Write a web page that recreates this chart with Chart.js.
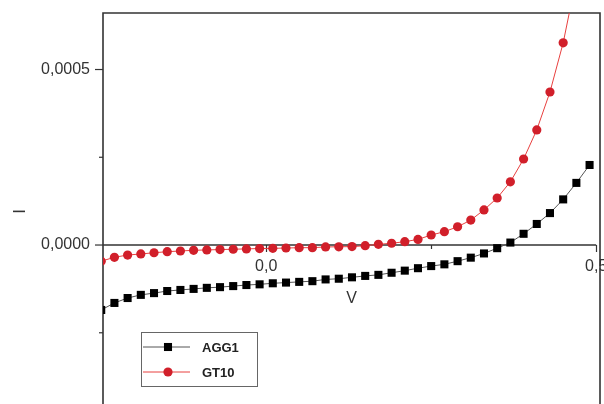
<!DOCTYPE html>
<html><head><meta charset="utf-8">
<script src="https://cdn.jsdelivr.net/npm/chart.js@4.4.1/dist/chart.umd.min.js"></script>
<style>
html,body{margin:0;padding:0;overflow:hidden;background:#fff;width:604px;height:404px}
#wrap{position:absolute;left:0;top:0;width:620px;height:420px}
</style>
</head><body><div id="wrap"><canvas id="c" width="620" height="420"></canvas></div>
<script>
// Voltage (V)
const voltage = [-0.25,-0.23,-0.21,-0.19,-0.17,-0.15,-0.13,-0.11,-0.09,-0.07,-0.05,-0.03,-0.01,
  0.01,0.03,0.05,0.07,0.09,0.11,0.13,0.15,0.17,0.19,0.21,0.23,0.25,0.27,0.29,0.31,0.33,0.35,
  0.37,0.39,0.41,0.43,0.45,0.47,0.49];
// Current I (A)
const agg1 = [-0.000185,-0.000165,-0.000151,-0.000142,-0.000137,-0.000131,-0.000128,-0.000125,
  -0.000122,-0.000120,-0.000117,-0.000114,-0.000112,-0.000109,-0.000107,-0.000105,-0.000103,
  -0.000098,-0.000096,-0.000092,-0.000088,-0.000085,-0.000079,-0.000073,-0.000066,-0.000060,
  -0.000055,-0.000046,-0.000036,-0.000024,-0.000009,0.000007,0.000032,0.000060,0.000091,
  0.000130,0.000177,0.000228];
const gt10 = [-0.000046,-0.000035,-0.0000285,-0.0000255,-0.000022,-0.000019,-0.000017,-0.000015,
  -0.000014,-0.000013,-0.000012,-0.000011,-0.000010,-0.0000095,-0.0000085,-0.0000077,-0.0000075,
  -0.0000055,-0.000005,-0.0000045,-0.000002,0.000002,0.000005,0.0000095,0.000016,0.0000285,
  0.000038,0.000052,0.000071,0.000100,0.000134,0.000180,0.000245,0.000328,0.000436,0.000576,
  0.00076,0.00100];
const seriesNames = ['AGG1','GT10'];
const xTicks = [0, 0.25, 0.5];
const xTickLabels = ['0,0', '', '0,5'];
const xMajor = [true, false, true];
const yTicks = [0, 0.0005];
const yTickLabels = ['0,0000', '0,0005'];
const yMinorTicks = [-0.00025, 0.00025];

const FONT = "'Liberation Sans', Arial, sans-serif";
const AXIS = '#333';

const framePlugin = {
  id: 'frame',
  beforeDatasetsDraw(chart) {
    const {ctx, chartArea: a, scales: {x, y}} = chart;
    ctx.save();
    ctx.strokeStyle = AXIS;
    ctx.lineWidth = 1.6;
    ctx.beginPath();
    ctx.moveTo(a.left, a.bottom + 20);
    ctx.lineTo(a.left, a.top);
    ctx.lineTo(a.right, a.top);
    ctx.lineTo(a.right, a.bottom + 20);
    ctx.stroke();
    const y0 = y.getPixelForValue(0);
    const xEnd = x.getPixelForValue(xTicks[xTicks.length - 1]);
    ctx.lineWidth = 1.3;
    ctx.beginPath();
    ctx.moveTo(a.left, y0);
    ctx.lineTo(xEnd, y0);
    ctx.stroke();
    ctx.lineWidth = 1.2;
    xTicks.forEach((v, i) => {
      const px = Math.round(x.getPixelForValue(v)) + 0.5;
      ctx.beginPath();
      ctx.moveTo(px, y0);
      ctx.lineTo(px, y0 + (xMajor[i] ? 7 : 4));
      ctx.stroke();
    });
    yTicks.forEach(v => {
      const py = y.getPixelForValue(v);
      ctx.beginPath(); ctx.moveTo(a.left, py); ctx.lineTo(a.left - 8, py); ctx.stroke();
    });
    yMinorTicks.forEach(v => {
      const py = y.getPixelForValue(v);
      ctx.beginPath(); ctx.moveTo(a.left, py); ctx.lineTo(a.left - 4, py); ctx.stroke();
    });
    ctx.restore();
  }
};

const legendPlugin = {
  id: 'boxLegend',
  afterDraw(chart) {
    const ctx = chart.ctx;
    const bx = 141.5, by = 332.5, bw = 116, bh = 54;
    ctx.save();
    ctx.fillStyle = '#fff';
    ctx.fillRect(bx, by, bw, bh);
    ctx.strokeStyle = '#666';
    ctx.lineWidth = 1;
    ctx.strokeRect(bx, by, bw, bh);
    chart.data.datasets.forEach((ds, i) => {
      const yy = 347 + i * 25;
      ctx.strokeStyle = ds.borderColor;
      ctx.lineWidth = 1;
      ctx.beginPath(); ctx.moveTo(143, yy); ctx.lineTo(190, yy); ctx.stroke();
      ctx.fillStyle = ds.pointBackgroundColor;
      if (ds.pointStyle === 'rect') {
        const s = ds.pointRadius * Math.SQRT1_2;
        ctx.fillRect(168 - s, yy - s, 2 * s, 2 * s);
      } else {
        ctx.beginPath(); ctx.arc(168, yy, ds.pointRadius, 0, Math.PI * 2); ctx.fill();
      }
      ctx.fillStyle = '#222';
      ctx.font = 'bold 13px ' + FONT;
      ctx.textBaseline = 'middle';
      ctx.textAlign = 'left';
      ctx.fillText(ds.label, 202, yy + 1);
    });
    ctx.restore();
  }
};

new Chart(document.getElementById('c'), {
  type: 'line',
  data: {
    datasets: [
      {
        label: seriesNames[0],
        data: voltage.map((v, i) => ({x: v, y: agg1[i]})),
        borderColor: '#555', borderWidth: 1,
        pointStyle: 'rect', pointRadius: 5.7,
        pointBackgroundColor: '#000', pointBorderColor: '#000', pointBorderWidth: 0,
        tension: 0, clip: 0
      },
      {
        label: seriesNames[1],
        data: voltage.map((v, i) => ({x: v, y: gt10[i]})),
        borderColor: '#e8403f', borderWidth: 1,
        pointStyle: 'circle', pointRadius: 4.6,
        pointBackgroundColor: '#d11f2a', pointBorderColor: '#d11f2a', pointBorderWidth: 0,
        tension: 0, clip: 0
      }
    ]
  },
  options: {
    responsive: false,
    animation: false,
    devicePixelRatio: 1,
    layout: {padding: {left: 0, top: 13, right: 20, bottom: 10}},
    plugins: {legend: {display: false}, tooltip: {enabled: false}},
    scales: {
      x: {
        type: 'linear', min: -0.2473, max: 0.5058,
        position: {y: 0},
        grid: {display: false, drawTicks: false},
        border: {display: false},
        afterBuildTicks: s => { s.ticks = xTicks.map(v => ({value: v})); },
        ticks: {
          autoSkip: false, maxRotation: 0, padding: 12, color: AXIS,
          font: {family: FONT, size: 16},
          callback: v => xTickLabels[xTicks.indexOf(v)]
        },
        title: {display: true, text: 'V', color: AXIS, font: {family: FONT, size: 16},
          padding: {top: 1, bottom: 0}}
      },
      y: {
        type: 'linear', min: -0.00047, max: 0.000661,
        position: 'left',
        grid: {display: false, drawTicks: false},
        border: {display: false},
        afterBuildTicks: s => { s.ticks = yTicks.map(v => ({value: v})); },
        afterFit: s => { s.width = 103; s.paddingTop = 0; s.paddingBottom = 0; },
        ticks: {
          autoSkip: false, padding: 13, color: AXIS,
          font: {family: FONT, size: 16},
          callback: v => yTickLabels[yTicks.indexOf(v)]
        },
        title: {display: true, text: 'I', color: AXIS, font: {family: FONT, size: 17},
          padding: {top: 10, bottom: 0}}
      }
    }
  },
  plugins: [framePlugin, legendPlugin]
});
</script>
</body></html>
